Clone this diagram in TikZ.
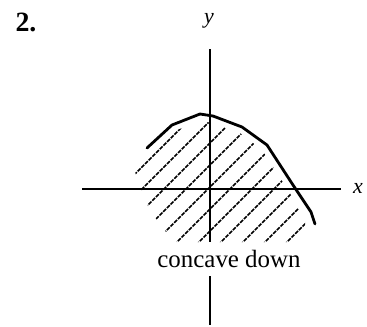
\documentclass[tikz,border=0pt]{standalone}
\usepackage{fontspec}
\setmainfont{Liberation Serif}
\begin{document}
\begin{tikzpicture}[x=1bp,y=-1bp,
  axis/.style={line width=1.9bp},
  curveline/.style={line width=2.8bp,line join=round,line cap=round},
  hatch/.style={line width=1.6bp,dash pattern=on 4bp off 1.2bp},
  lbl/.style={inner sep=0pt,font=\fontsize{22}{24}\selectfont\itshape}]
\useasboundingbox (0,0) rectangle (367,327);
% labels
\node[inner sep=0pt,font=\fontsize{28}{30}\selectfont\bfseries] (num) at (26,22) {2.};
\node[lbl] (ylab) at (209,21) {y};
\node[lbl] (xlab) at (358,188) {x};
\node[inner sep=0pt,font=\fontsize{25}{27}\selectfont] (cap) at (229,259) {concave down};
% axes
\coordinate (ytop) at (210,49);
\coordinate (ymid) at (210,242);
\coordinate (ylow) at (210,276);
\coordinate (ybot) at (210,325);
\coordinate (xl) at (82,189);
\coordinate (xr) at (341,189);
\draw[axis] (ytop) -- (ymid);
\draw[axis] (ylow) -- (ybot);
\draw[axis] (xl) -- (xr);
% hatching
\begin{scope}
\clip (140,160) -- (172,132) -- (200,121) -- (213,123) -- (240,133) -- (262,150)
  -- (288,190) -- (306,221) -- (300,242) -- (177,242) -- (162,228) -- (148,206)
  -- (138,182) -- (134,168) -- cycle;
\foreach \k in {-6,...,6}{
  \draw[hatch] ({419+22*\k-300},300) -- ({419+22*\k-100},100);
}
\end{scope}
% curve
\draw[curveline] (147,148) -- (172,125) -- (200,114) -- (213,116) -- (242,127)
  -- (267,145) -- (293,185) -- (311,212) -- (315,224);
\end{tikzpicture}
\end{document}
